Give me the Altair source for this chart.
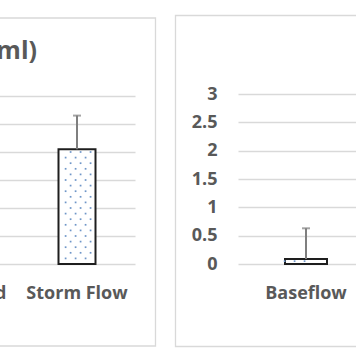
import altair as alt
import pandas as pd

# ---- data ----
left_categories = ["Combined", "Storm Flow"]
left_bar_categories = ["Storm Flow"]
left_values = [2.05]
left_err_top = [2.65]
left_title = "E. coli (CFU/100 ml)"

right_categories = ["Baseflow"]
right_bar_categories = ["Baseflow"]
right_values = [0.09]
right_err_top = [0.63]

y_ticks = [0, 0.5, 1, 1.5, 2, 2.5, 3]

TEXT = "#595959"
GRID = "#d9d9d9"
FONT = "Open Sans"


def panel(cats, bar_cats, values, errs, x_range, width, y_range, height,
          bar_size, dot_start, border, title=None):
    df = pd.DataFrame({"cat": bar_cats, "value": values, "err": errs})
    band = (x_range[1] - x_range[0]) / len(cats)
    xs = alt.Scale(domain=cats, range=x_range, paddingInner=0, paddingOuter=0)
    ys = alt.Scale(domain=[0, 3], range=y_range)
    xenc = alt.X("cat:N", scale=xs, title=None,
                 axis=alt.Axis(labelAngle=0, labelPadding=20, grid=False,
                               domain=False, ticks=False, labelOverlap=False))
    yaxis = alt.Axis(values=y_ticks, labelExpr="'' + datum.value", grid=True,
                     domain=False, ticks=False, labelPadding=21, title=None,
                     labelOverlap=False, tickCount=7)
    base = alt.Chart(df)
    bars = base.mark_bar(size=bar_size, fill="white", stroke="#1e1e1e",
                         strokeWidth=2).encode(
        x=xenc, y=alt.Y("value:Q", scale=ys, axis=yaxis))
    half = bar_size / 2 - 1
    dots = base.transform_calculate(
        ys=f"sequence({dot_start}, datum.value, 0.1)"
    ).transform_flatten(["ys"]).transform_calculate(
        k=f"round((datum.ys - {dot_start}) / 0.1)",
        cols="sequence(0, 4)"
    ).transform_flatten(["cols"]).transform_calculate(
        off="-19.2 + 11.7 * datum.cols + ((datum.k + 1) % 2) * 5.85"
    ).transform_filter(f"abs(datum.off) < {half}").mark_square(
        size=3, color="#6f96c8", opacity=1
    ).encode(
        x=alt.X("cat:N", scale=xs),
        xOffset=alt.XOffset("off:Q", scale=alt.Scale(domain=[-band / 2, band / 2],
                                                     range=[0, band])),
        y=alt.Y("ys:Q", scale=ys),
    )
    err = base.mark_rule(color="#7f7f7f", strokeWidth=2).encode(
        x=alt.X("cat:N", scale=xs), y=alt.Y("value:Q", scale=ys), y2="err:Q")
    cap = base.mark_tick(color="#7f7f7f", thickness=2, size=8).encode(
        x=alt.X("cat:N", scale=xs), y=alt.Y("err:Q", scale=ys))
    frame = alt.Chart(pd.DataFrame({"f": [0]})).mark_rect(
        fillOpacity=0, stroke=GRID, strokeWidth=1.3
    ).encode(x=alt.value(border[0]), x2=alt.value(border[1]),
             y=alt.value(border[2]), y2=alt.value(border[3]))
    layer = alt.layer(frame, bars, dots, err, cap).properties(width=width, height=height)
    if title is not None:
        layer = layer.properties(title=title)
    return layer


left = panel(left_categories, left_bar_categories, left_values, left_err_top,
             [-97, 135], 135, [170, 2], 170, 37, 0.1,
             [-300, 155.5, -76, 252],
             title=alt.TitleParams(left_title, anchor="end", frame="group", dx=-98,
                                   fontSize=25, font=FONT, fontWeight="bold",
                                   color=TEXT, baseline="alphabetic", offset=0, dy=67))
right = panel(right_categories, right_bar_categories, right_values, right_err_top,
              [0, 136], 136, [170, 0], 170, 42, 0.05,
              [-62.5, 300, -78.5, 252.5])

chart = alt.hconcat(left, right, spacing=103, bounds="flush").properties(
    autosize=alt.AutoSizeParams(type="none"),
    padding={"left": 0, "top": 94, "right": 356, "bottom": 270},
    background="white",
).configure_view(stroke=None).configure_axis(
    labelFont=FONT, labelFontSize=18, labelFontWeight="bold", labelColor=TEXT,
    gridColor=GRID, gridWidth=1.4,
)

chart.save("out.html", embed_options={"renderer": "svg", "actions": False})
